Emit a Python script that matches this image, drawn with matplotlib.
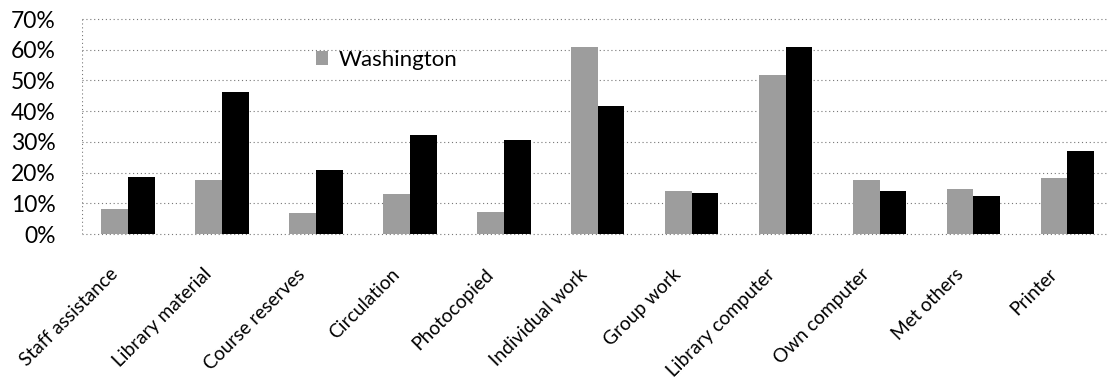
import numpy as np
import matplotlib
matplotlib.use('Agg')
import matplotlib.pyplot as plt
import matplotlib.transforms as mtransforms
from matplotlib.ticker import PercentFormatter

plt.rcParams['font.family'] = ['Lato', 'DejaVu Sans']

categories = ['Staff assistance', 'Library material', 'Course reserves', 'Circulation',
              'Photocopied', 'Individual work', 'Group work', 'Library computer',
              'Own computer', 'Met others', 'Printer']
washington = [8.0, 17.5, 6.9, 12.9, 7.2, 60.8, 14.0, 51.9, 17.5, 14.8, 18.3]
other = [18.6, 46.2, 21.0, 32.4, 30.5, 41.6, 13.2, 60.8, 14.1, 12.3, 26.9]

x = np.arange(len(categories))
w = 0.285

fig = plt.figure(figsize=(11.09, 3.92), dpi=100)
ax = fig.add_axes([0.0739, 0.403, 0.925, 0.5485])

grid_kw = dict(color='#777777', lw=0.8, linestyle=(0, (1, 2.5)))
for v in np.arange(0, 71, 10):
    ax.axhline(v, zorder=0, clip_on=False, **grid_kw)
ax.axvline(-0.49, zorder=0, **grid_kw)

b1 = ax.bar(x - w / 2, washington, w, color='#9d9d9d', zorder=2, label='Washington')
ax.bar(x + w / 2, other, w, color='black', zorder=2)

ax.set_xlim(-0.49, 10.43)
ax.set_ylim(0, 70)
ax.set_yticks(np.arange(0, 71, 10))
ax.yaxis.set_major_formatter(PercentFormatter(decimals=0))
ax.tick_params(axis='y', length=0, labelsize=16.5, pad=19)
ax.set_xticks(x)
ax.set_xticklabels(categories, rotation=45, ha='right', rotation_mode='anchor', fontsize=13.8)
ax.tick_params(axis='x', length=0, pad=14)
offset = mtransforms.ScaledTranslation(-0.19, -0.12, fig.dpi_scale_trans)
for lab in ax.get_xticklabels():
    lab.set_transform(lab.get_transform() + offset)
for s in ax.spines.values():
    s.set_visible(False)

ax.legend(handles=[b1], loc='center left', bbox_to_anchor=(0.285, 0.847),
          bbox_transform=fig.transFigure, frameon=False, fontsize=16,
          handlelength=0.55, handleheight=0.55, handletextpad=0.45,
          borderpad=0, borderaxespad=0)

fig.savefig('out.png', dpi=100)
